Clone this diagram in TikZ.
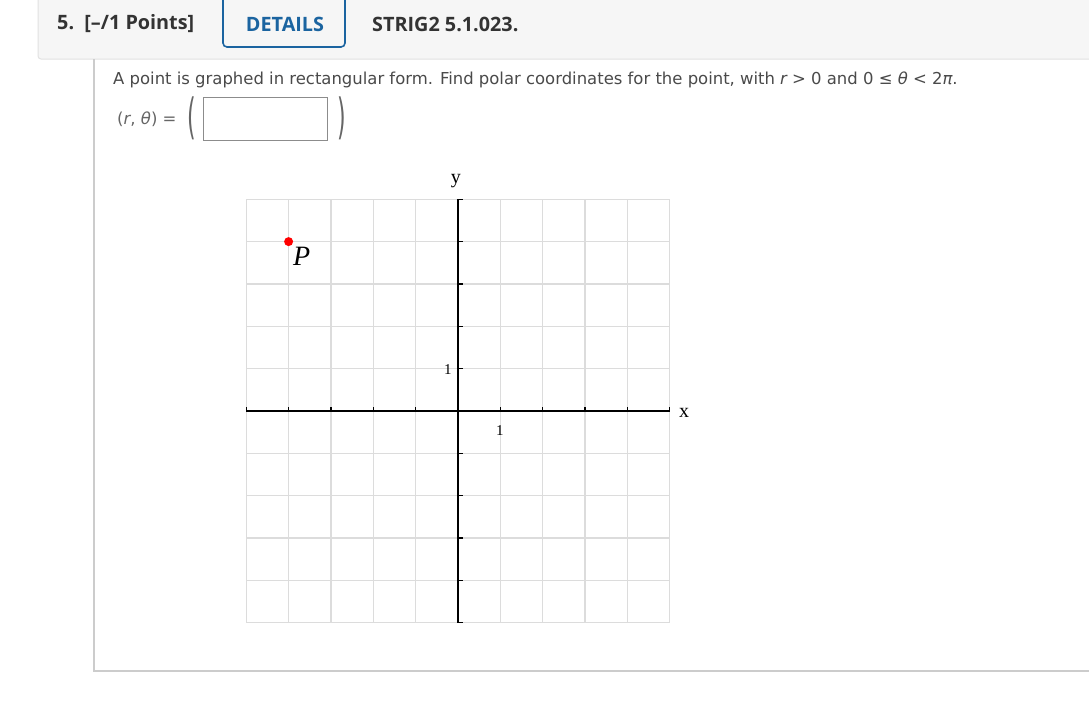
\documentclass[tikz,border=0pt]{standalone}
\usepackage{fontspec}
\setmainfont{DejaVu Sans}
\newfontfamily\headfont{Open Sans}
\newfontfamily\plotfont{Liberation Serif}
\usetikzlibrary{calc, positioning}
\definecolor{bandgray}{HTML}{F6F6F6}
\definecolor{bandline}{HTML}{E2E2E2}
\definecolor{panelline}{HTML}{CCCCCC}
\definecolor{headtext}{HTML}{333333}
\definecolor{btnblue}{HTML}{1B64A0}
\definecolor{bodytext}{HTML}{4A4A4A}
\definecolor{mathgray}{HTML}{666666}
\definecolor{gridgray}{HTML}{DCDCDC}
\definecolor{boxgray}{HTML}{8C8C8C}

\begin{document}
\begin{tikzpicture}
              [x=1pt, y=-1pt,
               headtxt/.style={font=\headfont\bfseries\fontsize{19.8}{22}\selectfont, text=headtext, inner sep=0pt, anchor=west},
               bodytxt/.style={font=\fontsize{16.45}{19}\selectfont, text=bodytext, inner sep=0pt, anchor=west},
               paren/.style={font=\fontsize{22}{24}\selectfont, text=mathgray, inner sep=0pt},
               ticklbl/.style={font=\plotfont\fontsize{15}{17}\selectfont, inner sep=0pt},
               axislbl/.style={font=\plotfont\fontsize{20}{22}\selectfont, inner sep=0pt}]
              \useasboundingbox[fill=white] (0,0) rectangle (1089,723);

              % header %
              \draw[fill=bandgray, draw=bandline, line width=1pt, rounded corners=3pt]
                (1100,-10) -- (38,-10) -- (38,59) -- (1100,59);
              \draw[draw=btnblue, line width=1.6pt, rounded corners=4pt] (223,-10) rectangle (345,47);
              \node[headtxt] (qnum) at (57,24) {5.\ \ [–/1 Points]};
              \node[headtxt, text=btnblue, anchor=center] (details) at (285,24) {DETAILS};
              \node[headtxt] (code) at (372,24) {STRIG2 5.1.023.};

              % panel %
              \draw[panelline, line width=1.5pt] (94,59) -- (94,671) -- (1100,671);

              % question %
              \node[bodytxt] (prompt) at (113,80) {A point is graphed in rectangular form. Find polar coordinates for the point, with {\itshape r} > 0 and 0 ≤ {\itshape θ} < 2{\itshape π}.};
              \node[bodytxt, text=mathgray, font=\fontsize{16.5}{19}\selectfont] (rtheta) at (117,119) {({\itshape r}, {\itshape θ}) =};
              \node[paren] (lparen) at (192,118) {\scalebox{1}[2.2]{(}};
              \node[draw=boxgray, line width=1pt, minimum width=124pt, minimum height=43pt, inner sep=0pt] (ansbox) at (265,118.5) {};
              \node[paren] (rparen) at (342,118) {\scalebox{1}[2.2]{)}};

              % graph %
              \begin{scope}[shift={(458,411)}, x=42.35pt, y=42.35pt]
                \draw[gridgray, line width=1.2pt, step=1] (-5,-5) grid (5,5);
                \coordinate (xl) at (-5,0);
                \coordinate (xr) at (5,0);
                \coordinate (yb) at (0,-5);
                \coordinate (yt) at (0,5);
                \draw[line width=1.4pt] (xl) -- (xr);
                \draw[line width=1.4pt] (yb) -- (yt);
                \foreach \i in {-5,...,-1,1,2,...,5} {
                  \draw[line width=1.2pt] (\i,0) -- ++(0,0.09);
                  \draw[line width=1.2pt] (0,\i) -- ++(0.12,0);
                }
                \node[axislbl] (ylbl) at (-0.05,5.43) {y};
                \node[axislbl] (xlbl) at (5.34,-0.05) {x};
                \node[ticklbl] (ytick) at (-0.24,0.97) {1};
                \node[ticklbl] (xtick) at (0.99,-0.47) {1};
                \node[circle, fill=red, inner sep=0pt, minimum size=9pt] (pt) at (-4,4) {};
                \node[font=\plotfont\itshape\fontsize{28}{30}\selectfont, inner sep=0pt] (plbl) at (-3.69,3.66) {P};
              \end{scope}
            \end{tikzpicture}
\end{document}
